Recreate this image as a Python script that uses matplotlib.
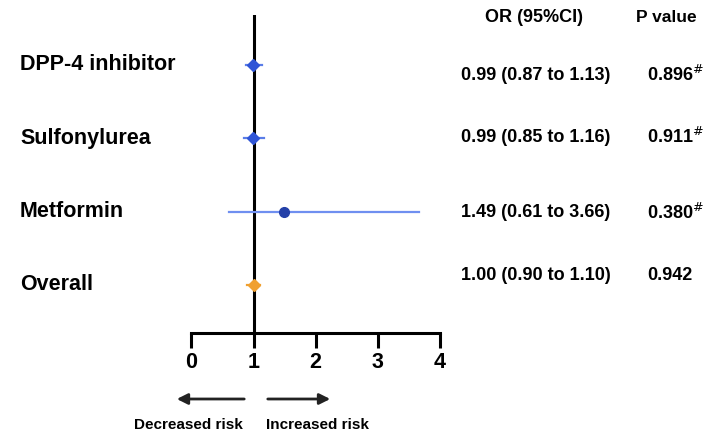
import matplotlib
matplotlib.use("Agg")
import matplotlib.pyplot as plt
from matplotlib.patches import FancyArrowPatch

plt.rcParams['font.family'] = ['Liberation Sans', 'DejaVu Sans']

categories = ["DPP-4 inhibitor", "Sulfonylurea", "Metformin", "Overall"]
or_values = [0.99, 0.99, 1.49, 1.00]
ci_low = [0.87, 0.85, 0.61, 0.90]
ci_high = [1.13, 1.16, 3.66, 1.10]
or_text = ["0.99 (0.87 to 1.13)", "0.99 (0.85 to 1.16)", "1.49 (0.61 to 3.66)", "1.00 (0.90 to 1.10)"]
p_text = ["0.896", "0.911", "0.380", "0.942"]
p_mark = ["#", "#", "#", ""]
x_ticks = [0, 1, 2, 3, 4]

markers = ["D", "D", "o", "D"]
colors = ["#2f55d6", "#2f55d6", "#2440a8", "#f0a030"]
line_colors = ["#5a7de8", "#5a7de8", "#6f8ff0", "#f0a030"]
msizes = [6, 6, 7, 6]

W, H = 712, 438
fig = plt.figure(figsize=(W / 100, H / 100), dpi=100)
ax = fig.add_axes([191.5 / W, 1 - 333 / H, (440 - 191.5) / W, (333 - 15) / H])
ypos = [4, 3, 2, 1]
ax.set_xlim(0, 4)
ax.set_ylim(0.345, 4.68)

ax.axvline(1, color="black", lw=2.2, zorder=2)
for i, y in enumerate(ypos):
    ax.plot([ci_low[i], ci_high[i]], [y, y], color=line_colors[i], lw=1.6, zorder=3)
    ax.plot(or_values[i], y, marker=markers[i], color=colors[i], ms=msizes[i], zorder=4, ls="none")

for s in ["top", "right", "left"]:
    ax.spines[s].set_visible(False)
ax.spines["bottom"].set_linewidth(2.2)
ax.set_yticks([])
ax.set_xticks(x_ticks)
ax.set_xticklabels([str(t) for t in x_ticks], fontsize=15.5, fontweight="bold")
ax.tick_params(axis="x", direction="out", length=11, width=2.2, pad=3)

# category labels
for i, y in enumerate(ypos):
    ax.annotate(categories[i], xy=(0, y), xycoords=("figure fraction", "data"),
                xytext=(20, 0), textcoords="offset pixels", ha="left", va="center",
                fontsize=15.5, fontweight="bold")

table_y = [75, 137, 213, 275]
for i, yp in enumerate(table_y):
    fig.text(536 / W, 1 - yp / H, or_text[i], ha="center", va="center",
             fontsize=13, fontweight="bold")
    fig.text(647 / W, 1 - yp / H, p_text[i] + (r"$^{\#}$" if p_mark[i] else ""),
             ha="left", va="center", fontsize=13, fontweight="bold")

fig.text(534 / W, 1 - 17 / H, "OR (95%CI)", ha="center", va="center", fontsize=13, fontweight="bold")
fig.text(666 / W, 1 - 17 / H, "P value", ha="center", va="center", fontsize=12.5, fontweight="bold")

# risk arrows
ya = 1 - 399 / H
fig.patches.append(FancyArrowPatch((247 / W, ya), (174 / W, ya), transform=fig.transFigure,
                                   arrowstyle="-|>", mutation_scale=16, lw=2, color="#222222"))
fig.patches.append(FancyArrowPatch((265 / W, ya), (333 / W, ya), transform=fig.transFigure,
                                   arrowstyle="-|>", mutation_scale=16, lw=2, color="#222222"))
fig.text(188 / W, 1 - 425 / H, "Decreased risk", ha="center", va="center", fontsize=11, fontweight="bold")
fig.text(317 / W, 1 - 425 / H, "Increased risk", ha="center", va="center", fontsize=11, fontweight="bold")

fig.savefig("out.png", dpi=100)
